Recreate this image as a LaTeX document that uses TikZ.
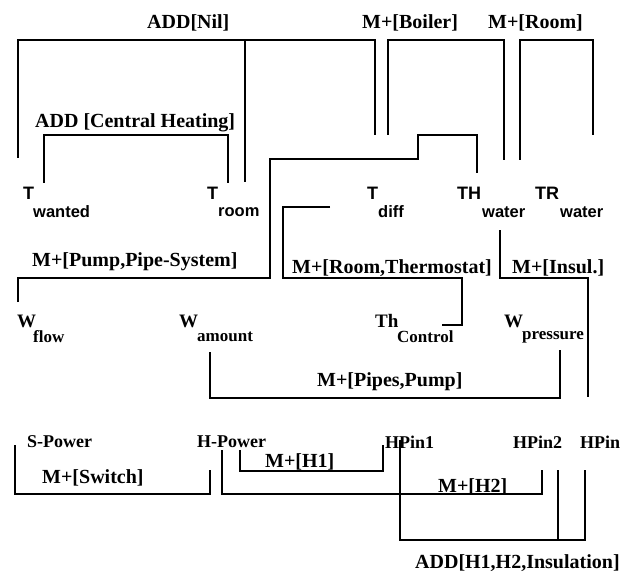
\documentclass[tikz,border=0pt]{standalone}
\usepackage{fontspec}
\setmainfont{Liberation Serif}
\setsansfont{Liberation Sans}
\usetikzlibrary{positioning}
\tikzset{
  link/.style ={draw=black, line width=2.6pt},
  rel/.style  ={inner sep=0pt, anchor=west, font=\bfseries\fontsize{20}{22}\selectfont},
  tvar/.style ={inner sep=0pt, anchor=west, font=\sffamily\bfseries\fontsize{18}{20}\selectfont},
  tsub/.style ={tvar, font=\sffamily\bfseries\fontsize{16.5}{18}\selectfont},
  wvar/.style ={inner sep=0pt, anchor=west, font=\bfseries\fontsize{19}{21}\selectfont},
  wsub/.style ={wvar, font=\bfseries\fontsize{17}{19}\selectfont},
  pvar/.style ={wvar, font=\bfseries\fontsize{18}{20}\selectfont},
}
% one relation: a leg up (or down) from each end, joined at height #3
\newcommand{\linkup}[3]{%
  \draw[link] (#1) -- (#1 |- 0,#3) -- (#2 |- 0,#3) -- (#2);}
\def\toplist{Tw/23/T, Tr/207/T, Td/367/T, THw/457/TH, TRw/535/TR}
\def\topsubs{Tw/33/wanted, Tr/218/room, Td/378/diff, THw/482/water, TRw/560/water}
\def\midlist{Wf/17/W, Wa/179/W, Th/375/Th, Wp/504/W}
\def\midsubs{Wf/33/flow, Wa/197/amount, Th/397/Control, Wp/522/pressure}
\def\botlist{SP/27/S-Power, HP/197/H-Power, HP1/385/HPin1, HP2/513/HPin2, HP3/580/HPin}
\begin{document}
\begin{tikzpicture}[x=1pt,y=-1pt]
  \useasboundingbox (0,0) rectangle (633,578);
  % variables
  \foreach \n/\x/\t in \toplist {\node[tvar] (\n) at (\x,193) {\t};}
  \foreach \n/\x/\t in \topsubs {\node[tsub] (\n-s) at (\x,212) {\t};}
  \foreach \n/\x/\t in \midlist {\node[wvar] (\n) at (\x,321) {\t};}
  \foreach \n/\x/\t in \midsubs {\node[wsub] (\n-s) at (\x,337) {\t};}
  \foreach \n/\x/\t in \botlist {\node[pvar] (\n) at (\x,442) {\t};}
  % relations
  \node[rel] (nil)    at (147,23)  {ADD[Nil]};
  \node[rel] (boiler) at (362,23)  {M+[Boiler]};
  \node[rel] (room)   at (488,23)  {M+[Room]};
  \node[rel] (cheat)  at (35,123)  {ADD [Central Heating]};
  \node[rel] (pump)   at (32,262)  {M+[Pump,Pipe-System]};
  \node[rel] (therm)  at (292,268) {M+[Room,Thermostat]};
  \node[rel] (insul)  at (512,268) {M+[Insul.]};
  \node[rel] (pipes)  at (317,382) {M+[Pipes,Pump]};
  \node[rel] (switch) at (42,478)  {M+[Switch]};
  \node[rel] (hone)   at (265,462) {M+[H1]};
  \node[rel] (htwo)   at (438,487) {M+[H2]};
  \node[rel] (hadd)   at (415,563) {ADD[H1,H2,Insulation]};
  % leg ends
  \coordinate (nilA) at (18,158);   \coordinate (nilB) at (245,182);
  \coordinate (nilC) at (375,135);
  \coordinate (chA) at (44,183);    \coordinate (chB) at (228,183);
  \coordinate (boilA) at (388,135); \coordinate (boilB) at (504,160);
  \coordinate (roomA) at (520,160); \coordinate (roomB) at (593,135);
  \coordinate (pumpA) at (18,302);  \coordinate (pumpB) at (477,173);
  \coordinate (thermA) at (330,207);\coordinate (thermB) at (442,325);
  \coordinate (insA) at (500,230);  \coordinate (insB) at (588,397);
  \coordinate (pipesA) at (210,352);\coordinate (pipesB) at (560,350);
  \coordinate (swA) at (15,445);    \coordinate (swB) at (210,470);
  \coordinate (htwoA) at (222,450); \coordinate (htwoB) at (542,470);
  \coordinate (honeA) at (240,450); \coordinate (honeB) at (383,445);
  \coordinate (haddA) at (400,440); \coordinate (haddB) at (558,470);
  \coordinate (haddC) at (585,470);
  \linkup{nilA}{nilC}{40}
  \draw[link] (nilB) -- (nilB |- 0,40);
  \linkup{chA}{chB}{135}
  \linkup{boilA}{boilB}{40}
  \linkup{roomA}{roomB}{40}
  \draw[link] (pumpA) |- (270,278) |- (418,159) |- (477,135) -- (pumpB);
  \draw[link] (thermA) -| (283,278) -| (462,325) -- (thermB);
  \linkup{insA}{insB}{278}
  \linkup{pipesA}{pipesB}{398}
  \linkup{swA}{swB}{494}
  \linkup{htwoA}{htwoB}{494}
  \linkup{honeA}{honeB}{471}
  \linkup{haddA}{haddC}{540}
  \draw[link] (haddB) -- (haddB |- 0,540);
\end{tikzpicture}
\end{document}
